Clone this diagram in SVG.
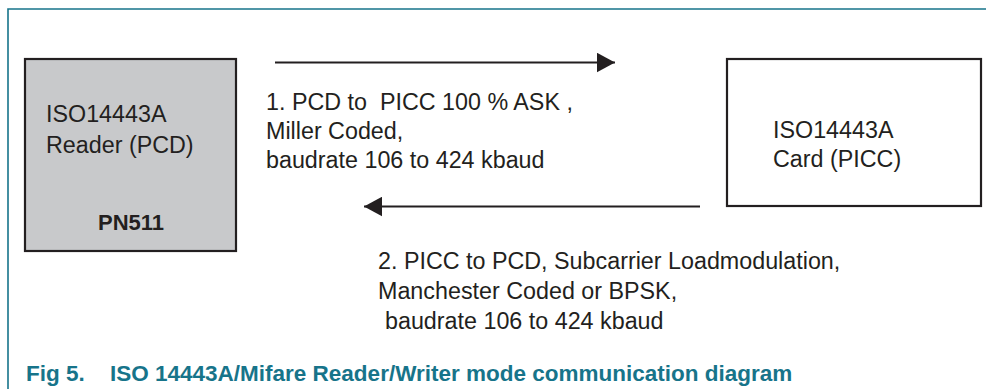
<svg xmlns="http://www.w3.org/2000/svg" width="986" height="389" viewBox="0 0 986 389">
<style>
.t{font-family:"Liberation Sans",Arial,sans-serif;font-size:23.3px;fill:#231f20}
.b{font-family:"Liberation Sans",Arial,sans-serif;font-size:22px;font-weight:bold;fill:#231f20}
.cap{font-family:"Liberation Sans",Arial,sans-serif;font-size:22.5px;font-weight:bold;fill:#17748a}
.box{stroke:#231f20;stroke-width:2.2}
.conn{stroke:#231f20;stroke-width:2.2;fill:none}
.frame{stroke:#17748a;stroke-width:1.6;fill:none}
</style>
<defs>
<marker id="ah" markerUnits="userSpaceOnUse" markerWidth="18" markerHeight="20" refX="18" refY="9.75" orient="auto" viewBox="0 0 18 19.5">
<path d="M0,0 L18,9.75 L0,19.5 z" fill="#231f20"/>
</marker>
</defs>
<rect width="986" height="389" fill="#ffffff"/>
<g id="frame">
<path class="frame" d="M986,9 H8 V389"/>
</g>
<g id="reader">
<rect class="box" x="25" y="59" width="211" height="192" fill="#c8c9cb"/>
<text class="t" x="46" y="121.5">ISO14443A</text>
<text class="t" x="46" y="153">Reader (PCD)</text>
<text class="b" x="98" y="230">PN511</text>
</g>
<g id="card">
<rect class="box" x="727" y="59" width="254" height="147" fill="#ffffff"/>
<text class="t" x="773" y="138">ISO14443A</text>
<text class="t" x="773" y="166.5">Card (PICC)</text>
</g>
<g id="connectors">
<line class="conn" x1="275" y1="62.5" x2="615" y2="62.5" marker-end="url(#ah)"/>
<line class="conn" x1="700" y1="206.5" x2="364" y2="206.5" marker-end="url(#ah)"/>
</g>
<g id="label1">
<text class="t" x="266" y="110" xml:space="preserve">1. PCD to  PICC 100 % ASK ,</text>
<text class="t" x="266" y="139">Miller Coded,</text>
<text class="t" x="266" y="168">baudrate 106 to 424 kbaud</text>
</g>
<g id="label2">
<text class="t" x="378" y="269">2. PICC to PCD, Subcarrier Loadmodulation,</text>
<text class="t" x="378" y="299">Manchester Coded or BPSK,</text>
<text class="t" x="385" y="329">baudrate 106 to 424 kbaud</text>
</g>
<g id="caption">
<text class="cap" x="26" y="381">Fig 5.</text>
<text class="cap" x="110" y="381">ISO 14443A/Mifare Reader/Writer mode communication diagram</text>
</g>
</svg>
